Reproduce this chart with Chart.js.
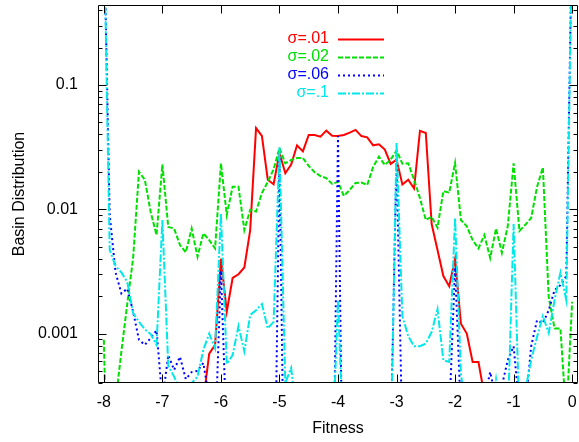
<!DOCTYPE html>
<html><head><meta charset="utf-8">
<script src="https://cdn.jsdelivr.net/npm/chart.js@4.4.0/dist/chart.umd.min.js"></script>
<style>html,body{margin:0;padding:0;background:#fff}</style>
</head><body>
<canvas id="c" width="579" height="442"></canvas>
<script>
const fitness = [-8.0,-7.9,-7.8,-7.7,-7.6,-7.5,-7.4,-7.3,-7.2,-7.1,
  -7.0,-6.9,-6.8,-6.7,-6.6,-6.5,-6.4,-6.3,-6.2,-6.1,
  -6.0,-5.9,-5.8,-5.7,-5.6,-5.5,-5.4,-5.3,-5.2,-5.1,
  -5.0,-4.9,-4.8,-4.7,-4.6,-4.5,-4.4,-4.3,-4.2,-4.1,
  -4.0,-3.9,-3.8,-3.7,-3.6,-3.5,-3.4,-3.3,-3.2,-3.1,
  -3.0,-2.9,-2.8,-2.7,-2.6,-2.5,-2.4,-2.3,-2.2,-2.1,
  -2.0,-1.9,-1.8,-1.7,-1.6,-1.5,-1.4,-1.3,-1.2,-1.1,
  -1.0,-0.9,-0.8,-0.7,-0.6,-0.5,-0.4,-0.3,-0.2,-0.1,
  0.0];
const sigma01 = [null,null,null,null,null,null,null,null,null,null,
  null,null,null,null,null,null,null,0.00029,0.00069,0.00081,
  0.0040,0.0015,0.0028,0.0030,0.0034,0.0068,0.045,0.039,0.0173,0.0159,
  0.0284,0.0195,0.0229,0.0327,0.0292,0.0396,0.0396,0.0384,0.0429,0.0391,
  0.0388,0.0396,0.0413,0.0435,0.0388,0.0379,0.0327,0.0333,0.0302,0.0232,
  0.0251,0.0158,0.0173,0.0147,0.0427,0.0411,0.0076,0.0047,0.0029,0.0024,
  0.0040,0.0012,0.0010,0.00059,0.00059,0.00032,null,null,null,null,
  null,null,null,null,null,null,null,null,null,null,
  null];
const sigma02 = [0.00089,0.00001,0.00028,0.00072,0.00173,0.00405,0.020,0.0173,0.0095,0.0062,
  0.023,0.0072,0.0070,0.00515,0.0045,0.0070,0.00415,0.0064,0.00565,0.00484,
  0.0234,0.0090,0.0152,0.0152,0.0068,0.0099,0.0096,0.0135,0.0166,0.021,
  0.0311,0.0234,0.0249,0.0258,0.0258,0.0223,0.0199,0.0185,0.0178,0.0160,
  0.0166,0.0128,0.0143,0.0163,0.0164,0.0157,0.0219,0.0265,0.0227,0.0251,
  0.0297,0.0233,0.0234,0.0173,0.0123,0.0082,0.0087,0.0071,0.0140,0.0136,
  0.0236,0.0082,0.0073,0.00565,0.00484,0.0062,0.00405,0.0070,0.00447,0.0073,
  0.0234,0.0067,0.0075,0.0085,0.0151,0.0217,0.00196,0.0011,0.0011,0.00021,
  0.0018];
const sigma06 = [2,0.009,0.0031,0.0021,0.0023,0.0015,0.00089,0.00081,0.00092,0.00106,
  0.00029,0.00067,0.00051,0.00065,0.00043,0.00049,0.00050,0.00058,0.00030,0.000135,
  0.0032,0.000135,0.00001,0.00001,0.00001,0.00001,0.00001,0.00001,0.00001,0.00001,
  0.0258,0.00001,0.00001,0.00001,0.00001,0.00001,0.00001,0.00001,0.00001,0.00001,
  0.0388,0.00001,0.00001,0.00001,0.00001,0.00001,0.00001,0.00001,0.00001,0.00013,
  0.0273,0.00013,0.00001,0.00001,0.00001,0.00001,0.00001,0.00001,0.00001,0.00022,
  0.0034,0.00022,0.00001,0.00038,0.00039,0.00030,0.00049,0.00030,0.00038,0.00061,
  0.00079,0.00025,0.00025,0.00079,0.00128,0.00121,0.00154,0.00224,0.00245,0.0029,
  2];
const sigma1 = [2,0.0047,0.0035,0.0031,0.0026,0.00146,0.00124,0.00108,0.00099,0.00081,
  0.0082,0.00055,0.00045,0.00035,0.00030,0.00040,0.00045,0.00074,0.0010,0.00076,
  0.0092,0.00057,0.00067,0.00115,0.00072,0.00141,0.00154,0.00173,0.0011,0.00124,
  0.0317,0.00040,0.00053,0.0002,0.0001,0.0001,0.0001,0.0001,0.0001,0.0001,
  0.00186,0.0001,0.0001,0.0001,0.0001,0.0001,0.0001,0.0001,0.0001,0.0001,
  0.0341,0.00138,0.00095,0.00079,0.00079,0.00083,0.00103,0.00157,0.00061,0.00059,
  0.0085,0.00048,0.0002,0.0002,0.0002,0.0002,0.0002,0.00043,0.0002,0.0002,
  0.0076,0.0002,0.00035,0.00061,0.00094,0.00138,0.00101,0.00186,0.0031,0.00186,
  2];
const seriesLabels = ['\u03c3=.01','\u03c3=.02','\u03c3=.06','\u03c3=.1'];
const xTicks = [-8,-7,-6,-5,-4,-3,-2,-1,0];
const xTickLabels = ['-8','-7','-6','-5','-4','-3','-2','-1','0'];
const yTicks = [0.001,0.01,0.1];
const yTickLabels = ['0.001','0.01','0.1'];

const colors = ['#ff0000','#00e000','#0000ff','#00e8e8'];
const dashes = [[],[5,2],[2,3],[8,2,2,2]];
const FONT = "'Liberation Sans', Arial, sans-serif";

function pts(arr){ return fitness.map((f,i)=>({x:f,y:arr[i]})); }
const allSeries = [sigma01, sigma02, sigma06, sigma1];

const frameTicks = {
  id:'frameTicks',
  afterDatasetsDraw(chart){
    const {ctx, chartArea:a, scales:{x,y}} = chart;
    ctx.save();
    ctx.strokeStyle = '#000'; ctx.lineWidth = 1; ctx.setLineDash([]);
    ctx.beginPath();
    const L = Math.round(a.left)+0.5, R = Math.round(a.right)-0.5, T = Math.round(a.top)+0.5, B = Math.round(a.bottom)-0.5;
    ctx.rect(L, T, R-L, B-T);
    const MAJ = 8, MIN = 4;
    xTicks.forEach(v=>{
      const px = Math.round(x.getPixelForValue(v))+0.5;
      ctx.moveTo(px,B); ctx.lineTo(px,B-MAJ);
      ctx.moveTo(px,T); ctx.lineTo(px,T+MAJ);
    });
    for(let d=-4; d<=0; d++){
      for(let m=1;m<10;m++){
        const v = m*Math.pow(10,d);
        if(v<y.min||v>y.max) continue;
        const py = Math.round(y.getPixelForValue(v))+0.5;
        const len = m===1?MAJ:MIN;
        ctx.moveTo(L,py); ctx.lineTo(L+len,py);
        ctx.moveTo(R,py); ctx.lineTo(R-len,py);
      }
    }
    ctx.stroke();
    // legend
    ctx.font = "16px " + FONT;
    ctx.textAlign = 'right'; ctx.textBaseline = 'middle';
    const ys = [39,57,75,93];
    seriesLabels.forEach((s,i)=>{
      ctx.fillStyle = colors[i];
      ctx.fillText(s, 329, ys[i]);
      ctx.strokeStyle = colors[i]; ctx.lineWidth = 2; ctx.setLineDash(dashes[i]);
      ctx.beginPath(); ctx.moveTo(338, ys[i]+0.5); ctx.lineTo(384, ys[i]+0.5); ctx.stroke();
    });
    ctx.restore();
  }
};

new Chart(document.getElementById('c'), {
  type:'line',
  data:{ datasets: allSeries.map((s,i)=>({
    label: seriesLabels[i], data: pts(s), borderColor: colors[i], backgroundColor: colors[i],
    borderWidth: 2, borderDash: dashes[i], pointRadius: 0, tension: 0, fill:false,
    spanGaps:false, order: 3-i
  }))},
  options:{
    responsive:false, animation:false, devicePixelRatio:1,
    layout:{padding:{left:0,right:1,top:5,bottom:0}},
    plugins:{legend:{display:false}, tooltip:{enabled:false}},
    scales:{
      x:{ type:'linear', min:-8.1, max:0.1,
        afterBuildTicks: s=>{ s.ticks = xTicks.map(v=>({value:v})); },
        afterFit: s=>{ s.height = 59; s.paddingLeft = 0; s.paddingRight = 0; },
        grid:{display:false}, border:{display:false},
        ticks:{ padding:2, color:'#000', font:{family:FONT,size:16}, maxRotation:0, autoSkip:false,
          callback:(v,i)=>xTickLabels[i] },
        title:{display:true, text:'Fitness', color:'#000', font:{family:FONT,size:16}, padding:{top:0,bottom:4}}
      },
      y:{ type:'logarithmic', min:0.0004, max:0.44,
        afterBuildTicks: s=>{ s.ticks = yTicks.map(v=>({value:v})); },
        afterFit: s=>{ s.width = 98; s.paddingTop = 0; s.paddingBottom = 0; },
        grid:{display:false}, border:{display:false},
        ticks:{ padding:12, color:'#000', font:{family:FONT,size:16}, autoSkip:false,
          callback:(v,i)=>yTickLabels[i] },
        title:{display:true, text:'Basin Distribution', color:'#000', font:{family:FONT,size:16}, padding:{top:10,bottom:0}}
      }
    }
  },
  plugins:[frameTicks]
});
</script>
</body></html>
